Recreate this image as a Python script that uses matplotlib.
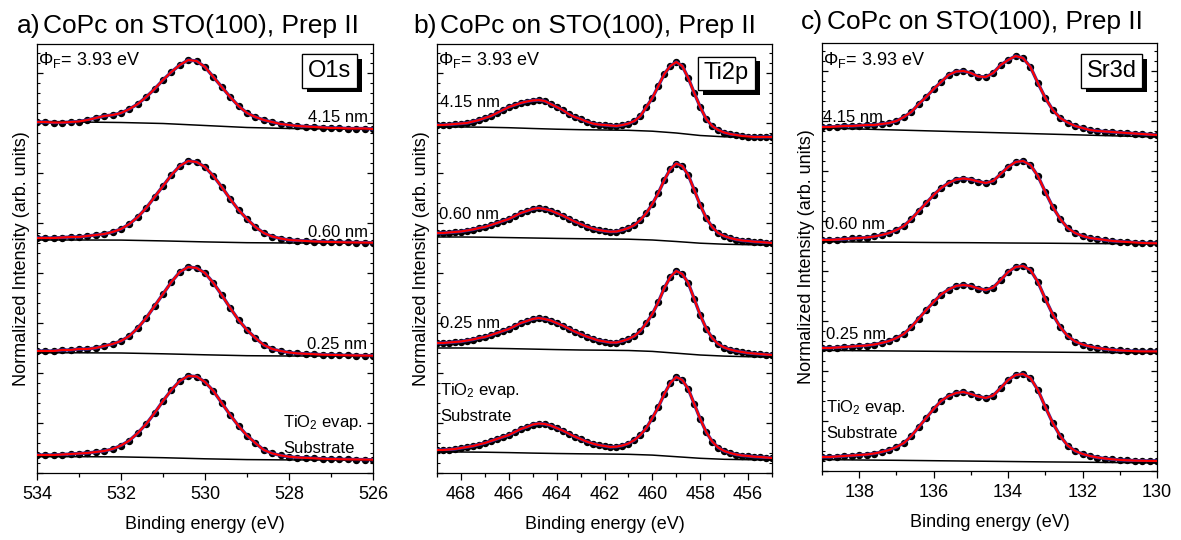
import numpy as np
import matplotlib.pyplot as plt
from matplotlib import patheffects
from matplotlib.ticker import MultipleLocator

plt.rcParams["font.family"] = ["Liberation Sans", "DejaVu Sans"]
plt.rcParams["mathtext.fontset"] = "custom"
plt.rcParams["mathtext.rm"] = "Liberation Sans"
plt.rcParams["mathtext.it"] = "Liberation Sans:italic"

W, H = 1181, 540

# ---- Daten (normierte Intensitaeten) ----
labels = ["4.15 nm", "0.60 nm", "0.25 nm", "Substrate"]

# O1s, 534 -> 526 eV, Schritt 0.2 eV
o1s_energy = np.round(np.arange(534, 525.99, -0.2), 2)
o1s_415 = [0.07, 0.07, 0.065, 0.065, 0.07, 0.075, 0.09, 0.11, 0.13, 0.14,
           0.16, 0.20, 0.25, 0.32, 0.40, 0.49, 0.57, 0.64, 0.69, 0.68,
           0.62, 0.52, 0.42, 0.32, 0.23, 0.16, 0.12, 0.09, 0.07, 0.05,
           0.04, 0.03, 0.025, 0.02, 0.015, 0.01, 0.01, 0.005, 0.005, 0.005, 0.0]
o1s_060 = [0.05, 0.05, 0.05, 0.055, 0.06, 0.06, 0.07, 0.08, 0.09, 0.11,
           0.14, 0.19, 0.26, 0.35, 0.46, 0.57, 0.68, 0.77, 0.82, 0.81,
           0.76, 0.67, 0.56, 0.44, 0.33, 0.24, 0.16, 0.10, 0.065, 0.045,
           0.03, 0.025, 0.02, 0.015, 0.012, 0.01, 0.008, 0.006, 0.005, 0.004, 0.003]
o1s_025 = [0.05, 0.05, 0.05, 0.06, 0.06, 0.07, 0.07, 0.08, 0.10, 0.12,
           0.15, 0.20, 0.28, 0.38, 0.50, 0.62, 0.74, 0.84, 0.89, 0.88,
           0.83, 0.73, 0.61, 0.48, 0.36, 0.26, 0.18, 0.11, 0.07, 0.05,
           0.035, 0.026, 0.022, 0.018, 0.013, 0.011, 0.009, 0.007, 0.005, 0.004, 0.003]
o1s_sub = [0.05, 0.05, 0.05, 0.055, 0.06, 0.065, 0.07, 0.08, 0.09, 0.11,
           0.145, 0.195, 0.27, 0.36, 0.47, 0.59, 0.70, 0.79, 0.84, 0.835,
           0.78, 0.69, 0.57, 0.45, 0.34, 0.245, 0.17, 0.10, 0.066, 0.046,
           0.033, 0.025, 0.021, 0.017, 0.012, 0.01, 0.008, 0.006, 0.005, 0.004, 0.003]
o1s_bg_energy = [534, 533, 532, 531, 530, 529, 528, 527, 526]
o1s_bg_415 = [0.07, 0.07, 0.065, 0.055, 0.035, 0.015, 0.005, 0.0, 0.0]
o1s_bg_060 = [0.03, 0.03, 0.029, 0.021, 0.011, 0.003, 0.0, 0.0, 0.0]
o1s_bg_025 = [0.032, 0.032, 0.03, 0.022, 0.012, 0.003, 0.0, 0.0, 0.0]
o1s_bg_sub = [0.033, 0.033, 0.031, 0.023, 0.012, 0.004, 0.001, 0.0, 0.0]
o1s_offsets = [3.44, 2.30, 1.17, 0.13]

# Ti2p, 469 -> 455 eV, Schritt 0.25 eV
ti2p_energy = np.round(np.arange(469, 454.99, -0.25), 2)
ti2p_415 = [0.14, 0.14, 0.145, 0.15, 0.155, 0.16, 0.175, 0.19, 0.21, 0.23,
            0.26, 0.29, 0.32, 0.34, 0.36, 0.375, 0.385, 0.39, 0.38, 0.35,
            0.32, 0.29, 0.25, 0.22, 0.20, 0.175, 0.155, 0.145, 0.14, 0.135,
            0.13, 0.14, 0.155, 0.18, 0.23, 0.32, 0.41, 0.53, 0.65, 0.73,
            0.77, 0.73, 0.61, 0.46, 0.32, 0.20, 0.13, 0.09, 0.065, 0.05,
            0.04, 0.03, 0.025, 0.02, 0.02, 0.02, 0.02]
ti2p_060 = [0.12, 0.12, 0.125, 0.13, 0.135, 0.145, 0.155, 0.17, 0.18, 0.20,
            0.22, 0.24, 0.26, 0.29, 0.32, 0.34, 0.36, 0.37, 0.36, 0.345,
            0.32, 0.295, 0.265, 0.235, 0.21, 0.185, 0.165, 0.15, 0.14, 0.133,
            0.135, 0.15, 0.17, 0.20, 0.25, 0.32, 0.41, 0.52, 0.65, 0.76,
            0.815, 0.79, 0.70, 0.55, 0.40, 0.27, 0.18, 0.12, 0.09, 0.07,
            0.055, 0.045, 0.04, 0.033, 0.03, 0.025, 0.02]
ti2p_025 = [0.14, 0.14, 0.145, 0.15, 0.155, 0.165, 0.175, 0.19, 0.20, 0.22,
            0.24, 0.26, 0.28, 0.31, 0.34, 0.36, 0.38, 0.39, 0.38, 0.365,
            0.34, 0.315, 0.285, 0.255, 0.23, 0.205, 0.185, 0.165, 0.155, 0.145,
            0.145, 0.16, 0.18, 0.21, 0.26, 0.34, 0.43, 0.55, 0.69, 0.80,
            0.86, 0.83, 0.74, 0.58, 0.42, 0.285, 0.19, 0.13, 0.095, 0.075,
            0.06, 0.05, 0.04, 0.035, 0.03, 0.025, 0.02]
ti2p_sub = [0.10, 0.10, 0.105, 0.11, 0.12, 0.13, 0.14, 0.155, 0.17, 0.19,
            0.21, 0.23, 0.25, 0.28, 0.31, 0.33, 0.355, 0.365, 0.36, 0.345,
            0.32, 0.295, 0.265, 0.235, 0.21, 0.185, 0.165, 0.15, 0.14, 0.13,
            0.133, 0.145, 0.165, 0.20, 0.25, 0.32, 0.42, 0.53, 0.66, 0.77,
            0.83, 0.80, 0.71, 0.56, 0.41, 0.28, 0.185, 0.125, 0.09, 0.07,
            0.055, 0.045, 0.04, 0.033, 0.03, 0.025, 0.02]
ti2p_bg_energy = [469, 468, 467, 466, 465, 464, 463, 462, 461, 460, 459, 458, 457, 456, 455]
ti2p_bg_415 = [0.12, 0.12, 0.118, 0.113, 0.105, 0.098, 0.093, 0.09, 0.087, 0.078,
               0.06, 0.035, 0.022, 0.017, 0.015]
ti2p_bg_060 = [0.08, 0.08, 0.078, 0.074, 0.07, 0.066, 0.063, 0.061, 0.058, 0.05,
               0.035, 0.018, 0.008, 0.003, 0.0]
ti2p_bg_025 = [0.09, 0.09, 0.088, 0.084, 0.079, 0.074, 0.07, 0.068, 0.065, 0.056,
               0.038, 0.02, 0.009, 0.003, 0.0]
ti2p_bg_sub = [0.08, 0.08, 0.078, 0.074, 0.069, 0.065, 0.062, 0.06, 0.057, 0.049,
               0.033, 0.017, 0.007, 0.003, 0.0]
ti2p_offsets = [3.34, 2.28, 1.16, 0.13]

# Sr3d, 139 -> 130 eV, Schritt 0.2 eV
sr3d_energy = np.round(np.arange(139, 129.99, -0.2), 2)
sr3d_415 = [0.10, 0.10, 0.105, 0.11, 0.11, 0.115, 0.12, 0.12, 0.13, 0.14,
            0.16, 0.20, 0.25, 0.33, 0.40, 0.48, 0.55, 0.62, 0.655, 0.66,
            0.64, 0.605, 0.60, 0.64, 0.72, 0.77, 0.81, 0.79, 0.70, 0.54,
            0.39, 0.27, 0.19, 0.145, 0.11, 0.09, 0.07, 0.06, 0.055, 0.05,
            0.045, 0.04, 0.035, 0.03, 0.025, 0.02]
sr3d_060 = [0.04, 0.04, 0.045, 0.05, 0.055, 0.06, 0.065, 0.075, 0.09, 0.11,
            0.14, 0.18, 0.25, 0.33, 0.41, 0.49, 0.56, 0.61, 0.645, 0.655,
            0.645, 0.625, 0.61, 0.63, 0.70, 0.77, 0.82, 0.83, 0.79, 0.68,
            0.52, 0.37, 0.25, 0.16, 0.11, 0.08, 0.06, 0.05, 0.04, 0.03,
            0.025, 0.02, 0.015, 0.01, 0.008, 0.007]
sr3d_025 = [0.05, 0.05, 0.055, 0.06, 0.065, 0.07, 0.075, 0.085, 0.10, 0.12,
            0.15, 0.19, 0.26, 0.345, 0.43, 0.51, 0.585, 0.635, 0.67, 0.68,
            0.67, 0.645, 0.63, 0.655, 0.73, 0.81, 0.86, 0.87, 0.83, 0.71,
            0.54, 0.385, 0.26, 0.17, 0.115, 0.085, 0.065, 0.05, 0.04, 0.032,
            0.026, 0.022, 0.018, 0.016, 0.016, 0.016]
sr3d_sub = [0.06, 0.06, 0.065, 0.07, 0.075, 0.08, 0.085, 0.095, 0.11, 0.13,
            0.16, 0.20, 0.27, 0.36, 0.45, 0.54, 0.62, 0.67, 0.70, 0.71,
            0.69, 0.665, 0.65, 0.675, 0.75, 0.83, 0.88, 0.89, 0.85, 0.73,
            0.56, 0.40, 0.27, 0.175, 0.12, 0.09, 0.07, 0.055, 0.045, 0.037,
            0.031, 0.027, 0.024, 0.022, 0.021, 0.02]
sr3d_bg_energy = [139, 138, 137, 136, 135, 134, 133, 132, 131, 130]
sr3d_bg_415 = [0.09, 0.08, 0.07, 0.06, 0.05, 0.04, 0.03, 0.02, 0.01, 0.0]
sr3d_bg_060 = [0.023, 0.02, 0.018, 0.015, 0.013, 0.01, 0.008, 0.005, 0.003, 0.0]
sr3d_bg_025 = [0.026, 0.023, 0.02, 0.017, 0.014, 0.012, 0.009, 0.006, 0.003, 0.0]
sr3d_bg_sub = [0.034, 0.03, 0.027, 0.023, 0.019, 0.015, 0.011, 0.008, 0.004, 0.0]
sr3d_offsets = [3.34, 2.27, 1.18, 0.08]


def fig_pos(x, y):
    # Pixel (von oben links) -> Figurkoordinaten
    return x / W, 1 - y / H


def draw_panel(ax, energy, spectra, bg_energy, bgs, offsets, xlim, ylim, xticks):
    for vals, bg, off in zip(spectra, bgs, offsets):
        y = off + np.array(vals)
        ax.plot(energy, y, "o", color="black", markersize=4.3, zorder=2)
        ax.plot(energy, y, color="#3b2f9a", linewidth=2.4, zorder=3)
        ax.plot(energy, y, color="red", linewidth=1.5, zorder=4)
        ax.plot(bg_energy, off + np.array(bg), color="black", linewidth=1.1, zorder=3)

    ax.set_xlim(*xlim)
    ax.set_ylim(*ylim)
    ax.set_xticks(xticks)
    ax.xaxis.set_minor_locator(MultipleLocator(1))
    ax.yaxis.set_major_locator(MultipleLocator(0.5))
    ax.yaxis.set_minor_locator(MultipleLocator(0.1))
    ax.tick_params(axis="x", which="major", direction="out", length=5, width=0.9,
                   labelsize=13, pad=4.5, top=False)
    ax.tick_params(axis="x", which="minor", direction="out", length=3, width=0.9, top=False)
    ax.tick_params(axis="y", which="major", direction="in", length=4, width=0.9,
                   left=True, right=True, labelleft=False)
    ax.tick_params(axis="y", which="minor", direction="in", length=2, width=0.8,
                   left=True, right=True)
    for s in ax.spines.values():
        s.set_linewidth(0.9)
    ax.set_xlabel("Binding energy (eV)", fontsize=13, labelpad=9)
    ax.set_ylabel("Normalized Intensity (arb. units)", fontsize=13, labelpad=1.5)


fig = plt.figure(figsize=(W / 100, H / 100), dpi=100)

ax_a = fig.add_axes([37 / W, 1 - 473 / H, 336 / W, 429 / H])
ax_b = fig.add_axes([437 / W, 1 - 473 / H, 335 / W, 429 / H])
ax_c = fig.add_axes([822 / W, 1 - 471 / H, 335 / W, 428 / H])

draw_panel(ax_a, o1s_energy, [o1s_415, o1s_060, o1s_025, o1s_sub], o1s_bg_energy,
           [o1s_bg_415, o1s_bg_060, o1s_bg_025, o1s_bg_sub], o1s_offsets,
           (534, 526), (0, 4.29), [534, 532, 530, 528, 526])
draw_panel(ax_b, ti2p_energy, [ti2p_415, ti2p_060, ti2p_025, ti2p_sub], ti2p_bg_energy,
           [ti2p_bg_415, ti2p_bg_060, ti2p_bg_025, ti2p_bg_sub], ti2p_offsets,
           (469, 455), (0, 4.29), [468, 466, 464, 462, 460, 458, 456])
draw_panel(ax_c, sr3d_energy, [sr3d_415, sr3d_060, sr3d_025, sr3d_sub], sr3d_bg_energy,
           [sr3d_bg_415, sr3d_bg_060, sr3d_bg_025, sr3d_bg_sub], sr3d_offsets,
           (139, 130), (0, 4.28), [138, 136, 134, 132, 130])

# Titel
titles = [("a)", 40, 43, 33), ("b)", 437, 440, 33), ("c)", 823, 827, 29)]
for letter, xr, xt, yb in titles:
    fig.text(*fig_pos(xr, yb), letter, fontsize=19, ha="right", va="baseline")
    fig.text(*fig_pos(xt, yb), "CoPc on STO(100), Prep II", fontsize=19,
             ha="left", va="baseline")

# Austrittsarbeit
for x0 in [38, 438, 823]:
    fig.text(*fig_pos(x0, 65), "\u03a6$_\\mathrm{F}$= 3.93 eV", fontsize=13,
             ha="left", va="baseline")

# Element-Kaesten mit Schatten
boxes = [("O1s", 329.5, 71), ("Ti2p", 726.5, 73.5), ("Sr3d", 1111.5, 71)]
for name, xc, yc in boxes:
    t = fig.text(*fig_pos(xc, yc), name, fontsize=17, ha="center", va="center",
                 bbox=dict(boxstyle="square,pad=0.25", facecolor="white",
                           edgecolor="black", linewidth=0.9))
    t.get_bbox_patch().set_path_effects([
        patheffects.withSimplePatchShadow(offset=(3.6, -3.3), shadow_rgbFace="black", alpha=1.0),
        patheffects.Normal()])

# Schichtdicken-Beschriftungen (x, Grundlinie in Pixel)
a_labels = [(368, 122, "right"), (368, 237, "right"), (367, 349, "right")]
b_labels = [(440, 107, "left"), (439, 219, "left"), (440, 328, "left")]
c_labels = [(823, 122, "left"), (825, 229, "left"), (826, 339, "left")]
for pos in [a_labels, b_labels, c_labels]:
    for (x, y, ha), lab in zip(pos, labels[:3]):
        fig.text(*fig_pos(x, y), lab, fontsize=12, ha=ha, va="baseline")

sub_pos = [(283, 427, 453), (440, 395, 421), (826, 412, 438)]
for x, y1, y2 in sub_pos:
    fig.text(*fig_pos(x, y1), "TiO$_2$ evap.", fontsize=12, ha="left", va="baseline")
    fig.text(*fig_pos(x, y2), labels[3], fontsize=12, ha="left", va="baseline")

fig.savefig("out.png", dpi=100)
